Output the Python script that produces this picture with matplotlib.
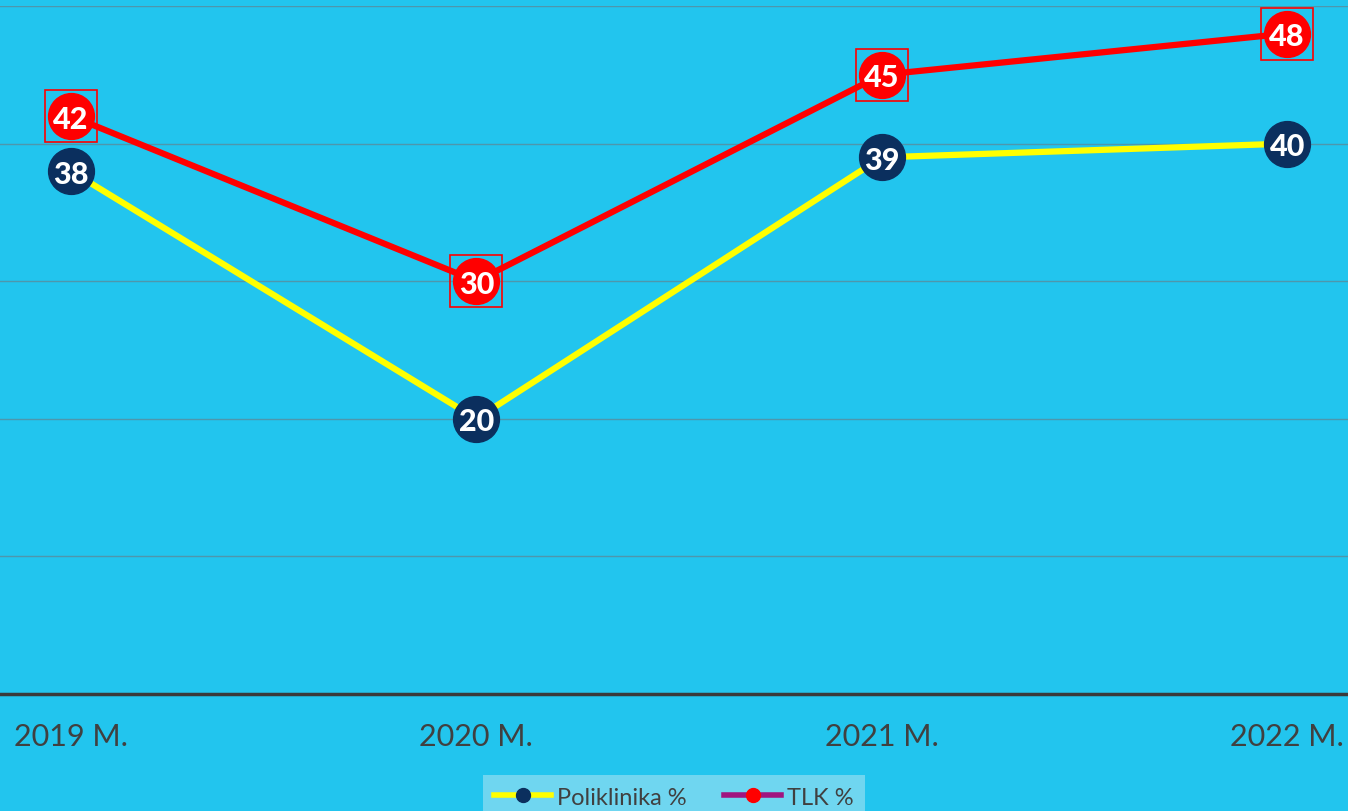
import matplotlib.pyplot as plt
from matplotlib.lines import Line2D

years = ['2019 M.', '2020 M.', '2021 M.', '2022 M.']
poliklinika = [38, 20, 39, 40]
tlk = [42, 30, 45, 48]

bg = '#22C5EE'
navy = '#0B2F5E'
red = '#FF0000'
yellow = '#FFFF00'
txt = '#404040'

plt.rcParams['font.family'] = ['Lato', 'DejaVu Sans']

fig = plt.figure(figsize=(13.48, 8.12), dpi=100)
fig.patch.set_facecolor(bg)
ax = fig.add_axes([0, 0.1441, 1, 0.9914 - 0.1441])
ax.set_facecolor(bg)

x = list(range(len(years)))
ax.set_xlim(-0.175, 3.15)
ax.set_ylim(0, 50)

for v in [10, 20, 30, 40, 50]:
    ax.axhline(v, color='#4E97AC', lw=1, zorder=1)

ax.plot(x, poliklinika, color=yellow, lw=4.5, zorder=3,
        marker='o', ms=33, mfc=navy, mec=navy)
ax.plot(x, tlk, color=red, lw=4.5, zorder=3,
        marker='o', ms=33, mfc=red, mec=red)
ax.plot(x, tlk, ls='none', marker='s', ms=37, mfc='none', mec=red, mew=1.2, zorder=4)

for xi, v in zip(x, poliklinika):
    ax.text(xi, v, str(v), ha='center', va='center_baseline', color='white',
            fontsize=22, fontweight='black', zorder=5)
for xi, v in zip(x, tlk):
    ax.text(xi, v, str(v), ha='center', va='center_baseline', color='white',
            fontsize=22, fontweight='black', zorder=5)

ax.set_yticks([])
ax.set_xticks(x)
ax.set_xticklabels(years, fontsize=22, color=txt)
ax.tick_params(axis='x', length=0, pad=20)
for s in ['top', 'left', 'right']:
    ax.spines[s].set_visible(False)
ax.spines['bottom'].set_color('#3A3A3A')
ax.spines['bottom'].set_linewidth(2.5)
ax.spines['bottom'].set_zorder(6)

handles = [
    Line2D([], [], color=yellow, lw=4, marker='o', ms=10, mfc=navy, mec=navy),
    Line2D([], [], color='#A0157F', lw=4, marker='o', ms=10, mfc=red, mec=red),
]
leg = fig.legend(handles, ['Poliklinika %', 'TLK %'], loc='lower center',
                 bbox_to_anchor=(0.5, -0.025), ncol=2, frameon=True, fancybox=False,
                 fontsize=17, handlelength=2.4, handletextpad=0.25, columnspacing=1.6,
                 borderpad=0.5)
leg.get_frame().set_facecolor('#6FD6F0')
leg.get_frame().set_edgecolor('none')
leg.get_frame().set_alpha(1)
for t in leg.get_texts():
    t.set_color(txt)

fig.savefig('out.png', dpi=100, facecolor=bg)
